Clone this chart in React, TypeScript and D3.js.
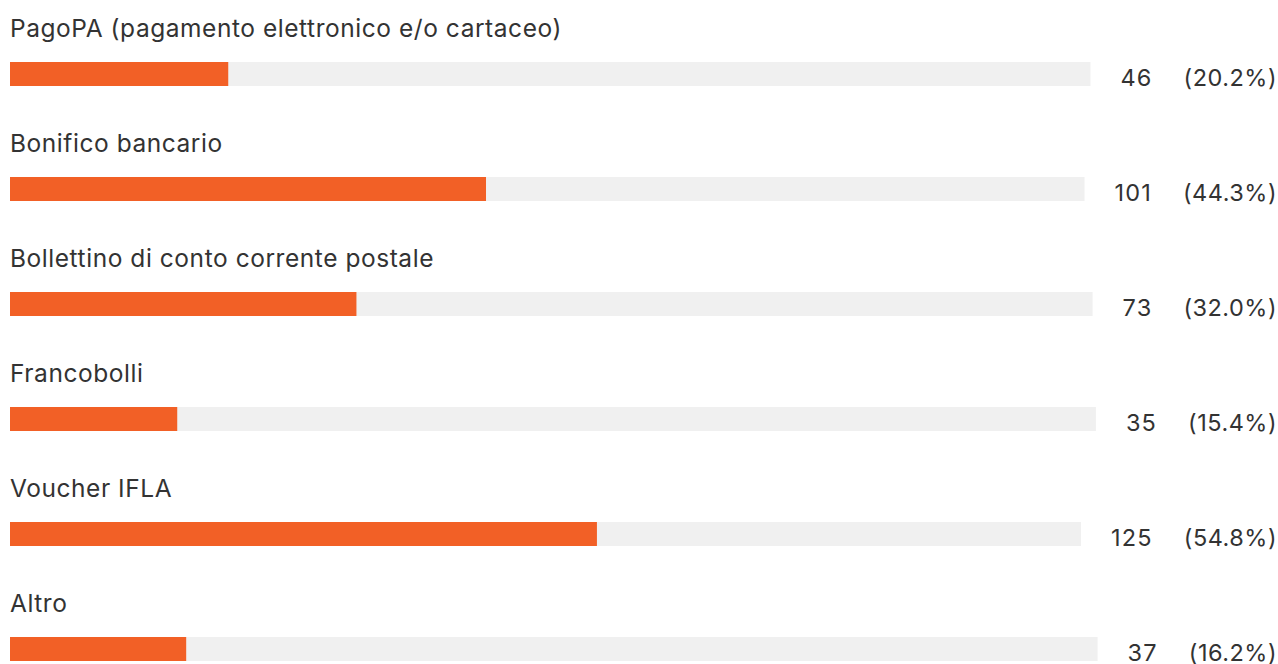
import React, { useEffect, useRef } from "react";
import * as d3 from "d3";

const categories = [
  "PagoPA (pagamento elettronico e/o cartaceo)",
  "Bonifico bancario",
  "Bollettino di conto corrente postale",
  "Francobolli",
  "Voucher IFLA",
  "Altro",
];
const counts = [46, 101, 73, 35, 125, 37];
const percents = [20.2, 44.3, 32.0, 15.4, 54.8, 16.2];

const W = 1278;
const H = 664;
const FONT = "Inter, Roboto, sans-serif";

export default function App() {
  const ref = useRef<SVGSVGElement | null>(null);

  useEffect(() => {
    document.body.style.margin = "0";
    const svg = d3.select(ref.current);
    svg.selectAll("*").remove();

    const left = 10;
    const rightEdge = 1277;
    const gapPct = 31;
    const gapCnt = 30;
    const rowStep = 115;
    const barTop = 62;
    const barH = 24;

    const y = d3.scaleBand<number>()
      .domain(d3.range(categories.length))
      .range([0, rowStep * categories.length]);

    categories.forEach((cat, i) => {
      const g = svg.append("g").attr("transform", `translate(0,${y(i)})`);

      g.append("text")
        .attr("x", left)
        .attr("y", 37)
        .attr("font-family", FONT)
        .attr("font-size", 24.5)
        .attr("letter-spacing", 0.55)
        .attr("fill", "#333333")
        .text(cat);

      const pctText = g.append("text")
        .attr("x", rightEdge)
        .attr("y", barTop + barH)
        .attr("text-anchor", "end")
        .attr("font-family", FONT)
        .attr("font-size", 23.5)
        .attr("letter-spacing", 0.5)
        .attr("fill", "#333333")
        .text(`(${percents[i].toFixed(1)}%)`);
      const pctW = (pctText.node() as SVGTextElement).getComputedTextLength();
      const countEnd = rightEdge - pctW - gapPct;

      const cntText = g.append("text")
        .attr("x", countEnd)
        .attr("y", barTop + barH)
        .attr("text-anchor", "end")
        .attr("font-family", FONT)
        .attr("font-size", 23.5)
        .attr("letter-spacing", 1.2)
        .attr("fill", "#333333")
        .text(String(counts[i]));
      const cntW = (cntText.node() as SVGTextElement).getComputedTextLength();
      const trackEnd = countEnd - cntW - gapCnt;

      const x = d3.scaleLinear().domain([0, 100]).range([left, trackEnd]);

      g.append("rect")
        .attr("x", x(0))
        .attr("y", barTop)
        .attr("width", x(100) - x(0))
        .attr("height", barH)
        .attr("fill", "#f0f0f0");

      g.append("rect")
        .attr("x", x(0))
        .attr("y", barTop)
        .attr("width", x(percents[i]) - x(0))
        .attr("height", barH)
        .attr("fill", "#f26026");
    });
  }, []);

  return <svg ref={ref} width={W} height={H} style={{ display: "block", background: "#fff" }} />;
}
